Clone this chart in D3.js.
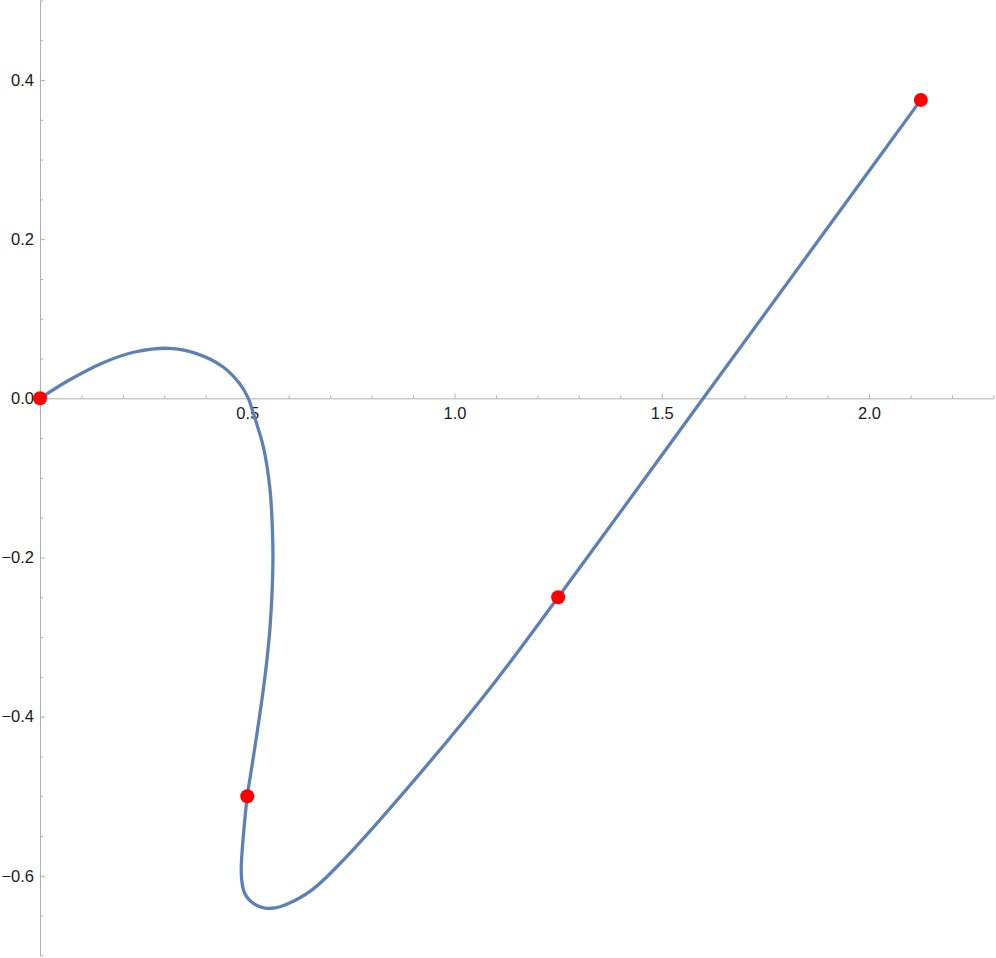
<!DOCTYPE html>
<html lang="en">
<head>
  <meta charset="UTF-8">
  <title>Parametric curve through four points</title>
  <script src="https://d3js.org/d3.v7.min.js"></script>
  <style>
    body {
      margin: 0;
      background: white;
    }
    .axis path,
    .axis line {
      stroke: #b0b0b0;
      stroke-width: 1;
    }
    .axis text {
      fill: #1a1a1a;
      font-family: "Liberation Sans", Arial, sans-serif;
      font-size: 16.5px;
    }
  </style>
</head>
<body>
  <div id="chart"></div>

  <script>
    // curve (x, y)
    const curveX = [0, 0.0707, 0.151, 0.2316, 0.312, 0.376, 0.441, 0.481, 0.5025,
      0.5146, 0.5387, 0.555, 0.5614, 0.5614, 0.5556, 0.5483, 0.5396,
      0.5307, 0.5185, 0.5072, 0.5, 0.4918, 0.4875, 0.4855, 0.4865, 0.4909, 0.4982, 0.509, 0.5235,
      0.5428, 0.567, 0.591, 0.6555, 0.7358, 0.9409, 1.1018, 1.25, 1.6, 1.9, 2.125];
    const curveY = [0, 0.023, 0.0445, 0.0585, 0.0628, 0.0565, 0.0397, 0.0188, 0,
      -0.0188, -0.0608, -0.1153, -0.1781, -0.2199, -0.2827, -0.3247, -0.3624,
      -0.3958, -0.4378, -0.4755, -0.5, -0.5425, -0.57, -0.59, -0.605, -0.6179, -0.626, -0.6323, -0.6373,
      -0.6405, -0.6402, -0.6367, -0.6179, -0.578, -0.4565, -0.3535, -0.25, 0, 0.2143, 0.375];

    // red marker points
    const pointX = [0, 0.5, 1.25, 2.125];
    const pointY = [0, -0.5, -0.25, 0.375];

    // ticks
    const xMajor = [0.5, 1.0, 1.5, 2.0];
    const yMajor = [-0.6, -0.4, -0.2, 0.0, 0.2, 0.4];
    const xMinor = [0.1, 0.2, 0.3, 0.4, 0.6, 0.7, 0.8, 0.9, 1.1, 1.2, 1.3, 1.4, 1.6, 1.7, 1.8, 1.9, 2.1, 2.2, 2.3];
    const yMinor = [-0.7, -0.65, -0.55, -0.5, -0.45, -0.35, -0.3, -0.25, -0.15, -0.1, -0.05,
      0.05, 0.1, 0.15, 0.25, 0.3, 0.35, 0.45, 0.5];

    const width = 996, height = 958;
    const svg = d3.select("#chart")
      .append("svg")
      .attr("width", width)
      .attr("height", height);

    const xScale = d3.scaleLinear().domain([0, 2.3]).range([40, 993.4]);
    const yScale = d3.scaleLinear().domain([-0.7, 0.5]).range([955.4, 0.4]);
    const fmt = d3.format(".1f");

    // x axis: ticks point up, labels below
    svg.append("g")
      .attr("class", "axis")
      .attr("transform", `translate(0,${yScale(0)})`)
      .call(d3.axisBottom(xScale).tickValues(xMinor).tickSize(-3).tickSizeOuter(0).tickFormat(""));
    svg.append("g")
      .attr("class", "axis")
      .attr("transform", `translate(0,${yScale(0)})`)
      .call(d3.axisBottom(xScale).tickValues(xMajor).tickSize(-5).tickSizeOuter(0).tickPadding(9).tickFormat(fmt))
      .select(".domain").remove();

    // y axis: ticks point right, labels left
    svg.append("g")
      .attr("class", "axis")
      .attr("transform", `translate(${xScale(0)},0)`)
      .call(d3.axisLeft(yScale).tickValues(yMinor).tickSize(-3).tickSizeOuter(0).tickFormat(""));
    svg.append("g")
      .attr("class", "axis")
      .attr("transform", `translate(${xScale(0)},0)`)
      .call(d3.axisLeft(yScale).tickValues(yMajor).tickSize(-5).tickSizeOuter(0).tickPadding(6).tickFormat(fmt))
      .select(".domain").remove();

    const curve = curveX.map((x, i) => [x, curveY[i]]);
    const line = d3.line()
      .x(d => xScale(d[0]))
      .y(d => yScale(d[1]))
      .curve(d3.curveCatmullRom.alpha(0.5));

    svg.append("path")
      .datum(curve)
      .attr("d", line)
      .attr("fill", "none")
      .attr("stroke", "#5e81b5")
      .attr("stroke-width", 3.3)
      .attr("stroke-linejoin", "round");

    svg.selectAll(".pt")
      .data(pointX.map((x, i) => [x, pointY[i]]))
      .join("circle")
      .attr("class", "pt")
      .attr("cx", d => xScale(d[0]))
      .attr("cy", d => yScale(d[1]))
      .attr("r", 7)
      .attr("fill", "#ff0000");
  </script>
</body>
</html>
